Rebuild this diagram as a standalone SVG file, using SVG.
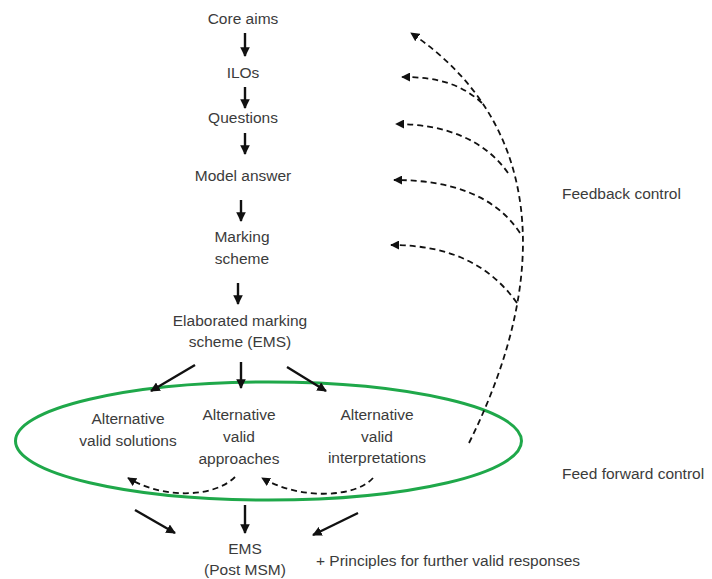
<svg xmlns="http://www.w3.org/2000/svg" width="712" height="579" viewBox="0 0 712 579">
<defs>
<style>
text{font-family:"Liberation Sans",Arial,sans-serif;font-size:15.5px;fill:#3b3b3b;text-anchor:middle}
.l{text-anchor:start}
.a{stroke:#111;stroke-width:2.4;fill:none;marker-end:url(#ah)}
.d{stroke:#111;stroke-width:1.8;fill:none;stroke-dasharray:6 4;marker-end:url(#dh)}
</style>
<marker id="ah" viewBox="0 0 10 10" refX="9" refY="5" markerWidth="4" markerHeight="4" orient="auto" markerUnits="strokeWidth"><path d="M0,0 L10,5 L0,10 z" fill="#111"/></marker>
<marker id="dh" viewBox="0 0 10 10" refX="9" refY="5" markerWidth="5" markerHeight="5" orient="auto" markerUnits="strokeWidth"><path d="M0,0 L10,5 L0,10 z" fill="#111"/></marker>
</defs>
<rect width="712" height="579" fill="#fff"/>
<g id="ellipse"><ellipse cx="268.5" cy="441" rx="253" ry="59" fill="none" stroke="#1fa84a" stroke-width="3"/></g>
<g id="core"><text x="243" y="24">Core aims</text></g>
<g id="ilos"><text x="243" y="78">ILOs</text></g>
<g id="questions"><text x="243" y="123">Questions</text></g>
<g id="model"><text x="243" y="181">Model answer</text></g>
<g id="marking"><text x="242" y="242">Marking</text><text x="242" y="264">scheme</text></g>
<g id="ems1"><text x="240" y="326">Elaborated marking</text><text x="240" y="347">scheme (EMS)</text></g>
<g id="solutions"><text x="128" y="424">Alternative</text><text x="128" y="446">valid solutions</text></g>
<g id="approaches"><text x="239" y="420">Alternative</text><text x="239" y="442">valid</text><text x="239" y="464">approaches</text></g>
<g id="interp"><text x="377" y="420">Alternative</text><text x="377" y="442">valid</text><text x="377" y="463">interpretations</text></g>
<g id="ems2"><text x="245" y="554">EMS</text><text x="245" y="575">(Post MSM)</text></g>
<g id="principles"><text class="l" x="316" y="566">+ Principles for further valid responses</text></g>
<g id="fb"><text class="l" x="562" y="199">Feedback control</text></g>
<g id="ff"><text class="l" x="562" y="479">Feed forward control</text></g>
<g id="connectors">
<line class="a" x1="245" y1="33" x2="245" y2="56"/>
<line class="a" x1="245" y1="87" x2="245" y2="108"/>
<line class="a" x1="245" y1="133" x2="245" y2="154"/>
<line class="a" x1="241" y1="200" x2="241" y2="221"/>
<line class="a" x1="238" y1="283" x2="238" y2="304"/>
<line class="a" x1="195" y1="365" x2="151" y2="391"/>
<line class="a" x1="241" y1="362" x2="241" y2="388"/>
<line class="a" x1="287" y1="367" x2="326" y2="391"/>
<line class="a" x1="135" y1="510" x2="175" y2="533"/>
<line class="a" x1="245" y1="505" x2="245" y2="533"/>
<line class="a" x1="358" y1="513" x2="313" y2="535"/>
<path class="d" d="M469,443 C555,270 540,120 411,33"/>
<path class="d" d="M482,103 C462,85 440,77 402,77"/>
<path class="d" d="M508,173 C485,140 445,124 396,124"/>
<path class="d" d="M520,233 C495,195 450,180 394,180"/>
<path class="d" d="M517,303 C490,265 450,245 391,245"/>
<path class="d" d="M235,477 C215,497 165,500 128,478"/>
<path class="d" d="M373,478 C355,498 300,500 262,478"/>
</g>
</svg>
